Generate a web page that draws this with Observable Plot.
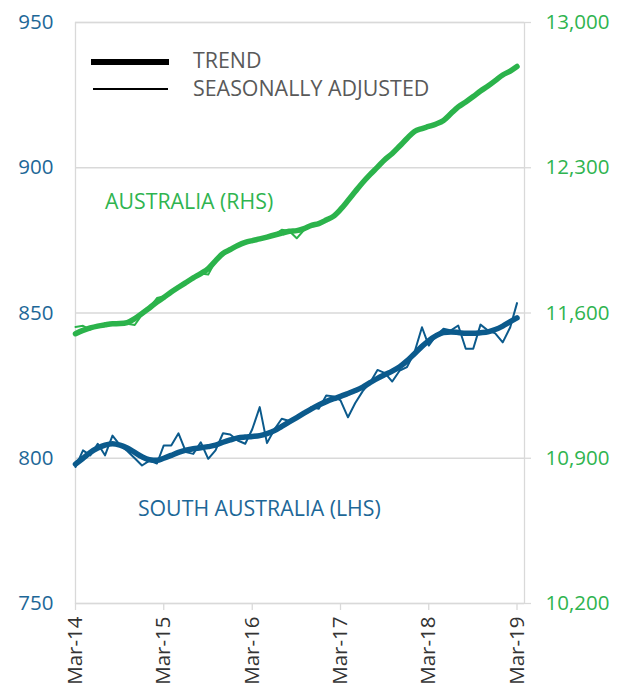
<!DOCTYPE html>
<html>
<head>
<meta charset="utf-8">
<script src="https://cdn.jsdelivr.net/npm/d3@7"></script>
<script src="https://cdn.jsdelivr.net/npm/@observablehq/plot@0.6"></script>
<style>
  html, body { margin: 0; padding: 0; background: #fff; }
  #wrap { position: relative; width: 625px; height: 688px; font-family: "Open Sans", sans-serif; }
  #legend { position: absolute; left: 0; top: 0; pointer-events: none; }
</style>
</head>
<body>
<div id="wrap"></div>
<script>
// ---- Data ----
const startMonth = new Date(Date.UTC(2014, 2, 1));   // Mar-14
const endMonth = new Date(Date.UTC(2019, 2, 1));     // Mar-19
const months = d3.utcMonth.range(startMonth, d3.utcMonth.offset(endMonth, 1)); // 61 months

// South Australia (LHS)
const saTrend = [798,800,802,803.5,804.5,805,804.5,803.5,802,800.5,799.5,799.3,800,801,802,802.8,803.3,803.6,804,804.5,
  805.5,806.3,807,807.3,807.5,807.8,808.5,809.5,811,812.5,814,815.5,817,818.3,819.5,820.5,821.3,822.3,823.3,824.5,
  826,827.5,828.8,830,831.5,833.5,836,838.5,840.5,842.2,843.3,843.5,843.3,843,843,843.2,843.5,844.3,845.5,847,848.3];
const saSeasAdj = [797,802.7,801,805,801,807.8,804.5,802.5,800,797.5,799.2,798.2,804.4,804.4,808.6,802.1,801.5,805.5,799.8,802.7,
  808.6,808.2,806.1,805,810,817.6,805.2,810,813.6,812.8,814,815.5,817.6,817,821.6,821.3,819.9,814.1,819,823.1,
  826,830.4,829.3,826.4,830.2,831.4,836.5,845.1,838.8,842.3,844.6,844,845.7,837.7,837.7,846,844,843,839.9,845.1,853.4];

// Australia (RHS)
const ausTrend = [11500,11516,11528,11537,11543,11548,11549,11554,11573,11598,11624,11653,11675,11701,11724,11747,11769,11790,11814,11851,
  11887,11906,11925,11940,11949,11957,11966,11976,11985,11994,11997,12007,12022,12031,12048,12067,12099,12142,12185,12229,
  12267,12303,12340,12369,12405,12441,12475,12489,12499,12511,12528,12561,12593,12617,12643,12670,12694,12720,12747,12766,12788];
const ausSeasAdj = [11533,11538,11520,11540,11548,11550,11553,11548,11542,11592,11625,11672,11680,11702,11726,11752,11766,11790,11785,11850,
  11890,11905,11925,11938,11950,11955,11968,11978,12001,11995,11960,12000,12022,12033,12050,12068,12100,12142,12185,12229,
  12267,12303,12340,12375,12405,12441,12475,12489,12499,12511,12525,12572,12593,12617,12643,12670,12694,12720,12747,12766,12790];

// Axis ticks
const leftTicks = [750, 800, 850, 900, 950];
const rightTicks = [10200, 10900, 11600, 12300, 13000];
const xTickDates = [2014, 2015, 2016, 2017, 2018, 2019].map(y => new Date(Date.UTC(y, 2, 1)));

// Series labels (data-space anchors)
const seriesLabels = [
  {date: new Date(Date.UTC(2014, 6, 1)), value: 888, text: "AUSTRALIA (RHS)", series: "aus"},
  {date: new Date(Date.UTC(2014, 10, 14)), value: 782.4, text: "SOUTH AUSTRALIA (LHS)", series: "sa"}
];

// ---- Helpers ----
const BLUE = "#0b5a8c";
const BLUE_TEXT = "#1d6797";
const GREEN = "#2bb34b";
const GREEN_TEXT = "#2fb44f";
const GRID = "#d9d9d9";

// map RHS values onto LHS scale (10,200..13,000 <-> 750..950)
const rToL = r => 750 + (r - 10200) / 14;
const lToR = l => 10200 + (l - 750) * 14;

const mk = (arr, f = v => v) => arr.map((v, i) => ({date: months[i], value: f(v)}));
const saTrendData = mk(saTrend);
const saSAData = mk(saSeasAdj);
const ausTrendData = mk(ausTrend, rToL);
const ausSAData = mk(ausSeasAdj, rToL);

const chart = Plot.plot({
  width: 625,
  height: 688,
  marginLeft: 75,
  marginRight: 101,
  marginTop: 22,
  marginBottom: 85,
  style: {fontFamily: "'Open Sans', sans-serif", fontSize: "20px", background: "#fff", overflow: "visible"},
  x: {type: "utc", domain: [startMonth, d3.utcMonth.offset(endMonth, 1)]},
  y: {domain: [750, 950]},
  marks: [
    Plot.gridY(leftTicks, {stroke: GRID, strokeOpacity: 1, strokeWidth: 1.3}),
    Plot.frame({stroke: GRID, strokeWidth: 1.3}),
    Plot.axisY(leftTicks, {anchor: "left", tickSize: 0, tickPadding: 22, fill: BLUE_TEXT, fontSize: 20.5, label: null}),
    Plot.axisY(rightTicks.map(rToL), {anchor: "right", tickSize: 6, tickPadding: 15, stroke: GRID, strokeWidth: 1.3, fill: GREEN_TEXT, fontSize: 20.5, label: null,
      tickFormat: d => d3.format(",")(Math.round(lToR(d))), textAnchor: "start"}),
    Plot.axisX(xTickDates, {anchor: "bottom", tickSize: 7, tickPadding: 6, tickRotate: -90, stroke: GRID, strokeWidth: 1.3, fill: "#333", fontSize: 20.5, label: null,
      tickFormat: d3.utcFormat("%b-%y")}),
    // Australia
    Plot.line(ausSAData, {x: "date", y: "value", stroke: GREEN, strokeWidth: 2}),
    Plot.line(ausTrendData, {x: "date", y: "value", stroke: GREEN, strokeWidth: 5.5, curve: "monotone-x", strokeLinecap: "round"}),
    // South Australia
    Plot.line(saSAData, {x: "date", y: "value", stroke: BLUE, strokeWidth: 2}),
    Plot.line(saTrendData, {x: "date", y: "value", stroke: BLUE, strokeWidth: 5.5, curve: "monotone-x", strokeLinecap: "round"}),
    // Series labels
    Plot.text(seriesLabels, {x: "date", y: "value", text: "text", textAnchor: "start", fontSize: 21.3,
      fill: d => d.series === "aus" ? GREEN_TEXT : BLUE_TEXT})
  ]
});

const wrap = document.getElementById("wrap");
wrap.appendChild(chart);

// Legend overlay
const legend = document.createElementNS("http://www.w3.org/2000/svg", "svg");
legend.setAttribute("id", "legend");
legend.setAttribute("width", "625");
legend.setAttribute("height", "120");
legend.innerHTML = `
  <line x1="91" x2="169" y1="62" y2="62" stroke="#000" stroke-width="6"/>
  <line x1="93" x2="168" y1="89" y2="89" stroke="#000" stroke-width="2"/>
  <text x="193" y="61" dy="0.35em" fill="#595959" font-size="21.4" font-family="'Open Sans', sans-serif">TREND</text>
  <text x="193" y="89" dy="0.35em" fill="#595959" font-size="21.4" font-family="'Open Sans', sans-serif">SEASONALLY ADJUSTED</text>
`;
wrap.appendChild(legend);
</script>
</body>
</html>
